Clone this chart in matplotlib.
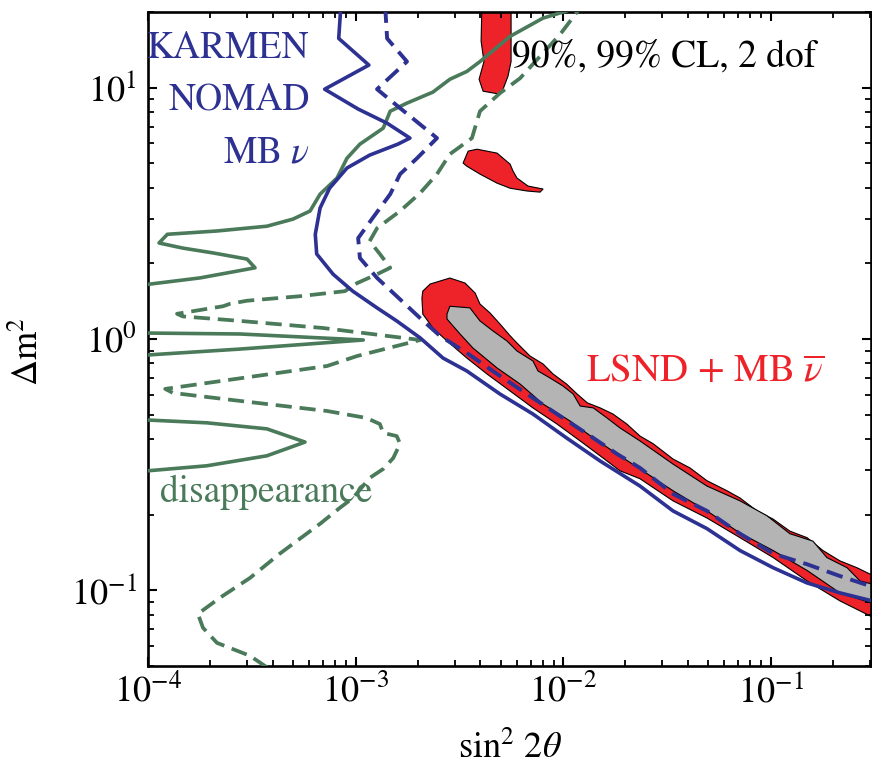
import matplotlib
matplotlib.use("Agg")
import matplotlib.pyplot as plt
from matplotlib.ticker import LogLocator, NullFormatter, LogFormatterMathtext

plt.rcParams['font.family'] = 'serif'
plt.rcParams['font.serif'] = ['STIXGeneral', 'Liberation Serif', 'DejaVu Serif']
plt.rcParams['mathtext.fontset'] = 'stix'

BLUE = '#2d3192'
GREEN = '#4a7a5a'
RED = '#ee2229'
GRAY = '#b4b4b4'

# ---------------- data (sin^2 2theta, Delta m^2) ----------------
# KARMEN + NOMAD + MB nu, solid contour
blue_solid_x = [8.5e-4, 8.3e-4, 1.16e-3, 7.1e-4, 1.03e-3, 1.42e-3, 1.83e-3, 1.60e-3,
                1.17e-3, 9.1e-4, 7.5e-4, 6.75e-4, 6.4e-4, 6.5e-4, 7.8e-4, 9.7e-4,
                1.27e-3, 1.58e-3, 2.05e-3, 2.64e-3, 3.44e-3, 4.97e-3, 7.16e-3, 1.04e-2,
                1.51e-2, 2.35e-2, 3.39e-2, 4.94e-2, 7.13e-2, 0.103, 0.150, 0.216, 0.337]
blue_solid_y = [21.1, 15.7, 12.3, 9.86, 8.22, 7.22, 6.30, 5.96,
                5.39, 4.79, 3.98, 3.32, 2.61, 2.18, 1.81, 1.55,
                1.33, 1.18, 1.01, 0.840, 0.746, 0.604, 0.503, 0.404,
                0.327, 0.260, 0.207, 0.176, 0.144, 0.123, 0.107, 0.0977, 0.0892]

# KARMEN + NOMAD + MB nu, dashed contour
blue_dash_x = [1.39e-3, 1.42e-3, 1.77e-3, 1.27e-3, 1.64e-3, 2.47e-3, 1.98e-3, 1.64e-3,
               1.47e-3, 1.21e-3, 1.03e-3, 1.05e-3, 1.27e-3, 1.58e-3, 2.05e-3, 2.55e-3,
               3.44e-3, 4.81e-3, 6.71e-3, 9.35e-3, 1.31e-2, 1.82e-2, 2.35e-2, 3.39e-2,
               4.94e-2, 7.13e-2, 0.103, 0.150, 0.216, 0.337]
blue_dash_y = [21.1, 15.7, 12.7, 9.86, 8.29, 6.30, 5.24, 4.53,
               3.77, 3.03, 2.52, 2.10, 1.75, 1.48, 1.21, 1.03,
               0.880, 0.726, 0.604, 0.503, 0.419, 0.349, 0.307, 0.242,
               0.207, 0.168, 0.140, 0.127, 0.114, 0.101]

# disappearance, solid contour
green_solid_x = [1.24e-2, 8.0e-3, 5.56e-3, 3.98e-3, 3.44e-3, 2.85e-3, 2.36e-3, 1.77e-3,
                 1.47e-3, 1.36e-3, 1.05e-3, 9.1e-4, 8.15e-4, 6.75e-4, 6.04e-4, 5.0e-4,
                 3.74e-4, 2.15e-4, 1.24e-4, 1.13e-4, 1.47e-4, 2.06e-4, 3.0e-4, 3.28e-4,
                 2.57e-4, 1.78e-4, 1.0e-4, 8e-5, 8e-5, 1.0e-4, 2.78e-4, 1.09e-3,
                 2.78e-4, 1.0e-4, 8e-5, 8e-5, 1.0e-4, 1.92e-4, 3.74e-4, 5.71e-4,
                 3.74e-4, 1.92e-4, 1.0e-4, 8e-5]
green_solid_y = [21.1, 18.9, 16.0, 12.7, 11.6, 10.8, 9.6, 8.68,
                 8.06, 6.90, 5.96, 5.24, 4.37, 3.77, 3.23, 3.00,
                 2.81, 2.69, 2.61, 2.41, 2.30, 2.20, 2.08, 1.92,
                 1.85, 1.75, 1.65, 1.60, 1.09, 1.056, 1.047, 0.991,
                 0.912, 0.864, 0.848, 0.481, 0.476, 0.464, 0.439, 0.389,
                 0.343, 0.313, 0.299, 0.296]

# disappearance, dashed contour
green_dash_x = [1.28e-2, 9.69e-3, 7.16e-3, 6.21e-3, 4.97e-3, 3.98e-3, 3.64e-3, 2.85e-3,
                2.47e-3, 2.05e-3, 1.64e-3, 1.27e-3, 1.17e-3, 1.31e-3, 1.47e-3, 1.27e-3,
                1.02e-3, 8.89e-4, 5.40e-4, 3.0e-4, 2.48e-4, 2.30e-4, 1.38e-4, 1.47e-4,
                2.78e-4, 6.97e-4, 2.05e-3, 1.02e-3, 7.30e-4, 3.35e-4, 1.21e-4, 1.32e-4,
                2.78e-4, 7.30e-4, 1.13e-3, 1.31e-3, 1.36e-3, 1.58e-3, 1.64e-3, 1.52e-3,
                1.36e-3, 1.17e-3, 9.72e-4, 8.41e-4, 6.75e-4, 6.04e-4, 4.32e-4, 3.10e-4,
                2.22e-4, 1.74e-4, 1.84e-4, 2.15e-4, 3.10e-4, 4.09e-4]
green_dash_y = [22.1, 16.3, 12.4, 10.9, 9.51, 8.06, 6.30, 5.44,
                4.53, 3.81, 3.23, 2.76, 2.45, 2.18, 1.92, 1.81,
                1.67, 1.55, 1.48, 1.42, 1.38, 1.35, 1.26, 1.23,
                1.18, 1.106, 0.991, 0.856, 0.781, 0.713, 0.633, 0.610,
                0.567, 0.517, 0.485, 0.459, 0.423, 0.411, 0.383, 0.336,
                0.304, 0.280, 0.233, 0.213, 0.184, 0.172, 0.140, 0.112,
                0.0934, 0.0806, 0.0710, 0.0618, 0.0549, 0.0470]

# LSND + MB anti-nu, 99% CL region (outer, red)
lsnd99_x = [2.09e-3, 2.11e-3, 2.29e-3, 2.85e-3, 3.37e-3, 3.77e-3, 3.98e-3, 4.45e-3,
            4.97e-3, 5.56e-3, 6.00e-3, 6.93e-3, 8.02e-3, 8.95e-3, 1.04e-2, 1.17e-2,
            1.31e-2, 1.51e-2, 1.74e-2, 2.03e-2, 2.35e-2, 2.72e-2, 3.39e-2, 4.09e-2,
            4.94e-2, 6.17e-2, 7.13e-2, 8.61e-2, 0.103, 0.124, 0.150, 0.179,
            0.216, 0.261, 0.337,
            0.337, 0.216, 0.150, 0.103, 7.13e-2, 4.94e-2, 3.39e-2, 2.35e-2,
            1.88e-2, 1.56e-2, 1.21e-2, 9.35e-3, 7.16e-3, 5.56e-3, 4.30e-3, 3.44e-3,
            2.76e-3, 2.36e-3, 2.11e-3]
lsnd99_y = [1.456, 1.55, 1.655, 1.748, 1.670, 1.524, 1.378, 1.269,
            1.147, 1.03, 0.964, 0.856, 0.795, 0.726, 0.662, 0.604,
            0.557, 0.532, 0.503, 0.459, 0.411, 0.383, 0.333, 0.307,
            0.273, 0.249, 0.233, 0.207, 0.192, 0.172, 0.162, 0.144,
            0.131, 0.123, 0.111,
            0.0756, 0.0908, 0.109, 0.135, 0.162, 0.194, 0.227, 0.278,
            0.299, 0.336, 0.393, 0.459, 0.532, 0.621, 0.726, 0.840,
            0.982, 1.106, 1.257]

# LSND + MB anti-nu, 90% CL region (inner, gray)
lsnd90_x = [2.76e-3, 2.85e-3, 3.56e-3, 3.98e-3, 4.60e-3, 5.37e-3, 6.00e-3, 7.16e-3,
            7.58e-3, 8.65e-3, 1.00e-2, 1.12e-2, 1.21e-2, 1.40e-2, 1.63e-2, 1.88e-2,
            2.35e-2, 3.39e-2, 4.94e-2, 7.13e-2, 9.62e-2, 0.124, 0.160, 0.187,
            0.234, 0.270, 0.337,
            0.337, 0.216, 0.150, 0.103, 7.13e-2, 4.94e-2, 3.39e-2, 2.35e-2,
            1.82e-2, 1.40e-2, 1.08e-2, 8.02e-3, 6.21e-3, 4.81e-3, 3.68e-3, 3.19e-3,
            2.76e-3]
lsnd90_y = [1.257, 1.35, 1.33, 1.18, 1.076, 0.982, 0.896, 0.818,
            0.746, 0.700, 0.650, 0.604, 0.541, 0.532, 0.485, 0.443,
            0.393, 0.318, 0.260, 0.227, 0.198, 0.168, 0.157, 0.135,
            0.123, 0.109, 0.104,
            0.0868, 0.0977, 0.120, 0.144, 0.169, 0.207, 0.249, 0.304,
            0.349, 0.404, 0.472, 0.551, 0.662, 0.767, 0.921, 1.047,
            1.201]

# isolated 99% CL islands
island_top_x = [4.07e-3, 4.03e-3, 4.16e-3, 3.94e-3, 4.12e-3, 4.97e-3, 5.14e-3, 5.43e-3,
                5.62e-3, 5.62e-3, 5.62e-3]
island_top_y = [22.1, 15.3, 12.7, 10.8, 9.68, 9.42, 9.86, 11.1,
                12.7, 16.8, 22.1]
island_mid_x = [3.30e-3, 3.49e-3, 3.85e-3, 4.81e-3, 5.56e-3, 5.74e-3, 6.00e-3, 6.78e-3,
                8.02e-3, 7.75e-3, 6.71e-3, 5.56e-3, 4.81e-3, 3.98e-3, 3.44e-3]
island_mid_y = [5.01, 5.59, 5.69, 5.49, 4.96, 4.66, 4.37, 4.06,
                3.95, 3.84, 3.88, 3.98, 4.17, 4.53, 4.87]

x_limits = (1e-4, 0.305)
y_limits = (0.05, 20)

# ---------------- figure ----------------
fig = plt.figure(figsize=(8.72, 7.69), dpi=100)
ax = fig.add_axes([148 / 872, 103 / 769, 723 / 872, 654 / 769])
ax.set_xscale('log')
ax.set_yscale('log')

ax.fill(lsnd99_x, lsnd99_y, facecolor=RED, edgecolor='black', lw=0.8, zorder=1)
ax.fill(island_top_x, island_top_y, facecolor=RED, edgecolor='black', lw=0.8, zorder=1)
ax.fill(island_mid_x, island_mid_y, facecolor=RED, edgecolor='black', lw=0.8, zorder=1)
ax.fill(lsnd90_x, lsnd90_y, facecolor=GRAY, edgecolor='black', lw=0.8, zorder=2)

ax.plot(green_solid_x, green_solid_y, color=GREEN, lw=2.6, zorder=3)
ax.plot(green_dash_x, green_dash_y, color=GREEN, lw=2.7, ls=(0, (4.3, 2.1)), zorder=3)
ax.plot(blue_solid_x, blue_solid_y, color=BLUE, lw=2.6, zorder=4)
ax.plot(blue_dash_x, blue_dash_y, color=BLUE, lw=2.8, ls=(0, (4.3, 2.1)), zorder=4)

ax.set_xlim(*x_limits)
ax.set_ylim(*y_limits)

for axis in (ax.xaxis, ax.yaxis):
    axis.set_major_locator(LogLocator(base=10, numticks=20))
    axis.set_minor_locator(LogLocator(base=10, subs=range(2, 10), numticks=50))
    axis.set_minor_formatter(NullFormatter())
    axis.set_major_formatter(LogFormatterMathtext())

ax.tick_params(which='both', direction='in', top=True, right=True, labelsize=26)
ax.tick_params(which='major', length=6.5, width=1.5)
ax.tick_params(which='minor', length=4.3, width=1.3)
ax.tick_params(axis='y', pad=8)
ax.tick_params(axis='x', pad=6)
for sp in ax.spines.values():
    sp.set_linewidth(1.9)

ax.set_xlabel(r'sin$^{2}$ 2$\theta$', fontsize=26)
ax.xaxis.set_label_coords(0.5, -0.100)
ax.set_ylabel(r'$\Delta\mathrm{m}^{2}$', fontsize=26)
ax.yaxis.set_label_coords(-0.141, 0.48)

ax.text(0.2238, 0.9297, 'KARMEN', color=BLUE, fontsize=27, ha='right',
        va='baseline', transform=ax.transAxes)
ax.text(0.2238, 0.8502, 'NOMAD', color=BLUE, fontsize=27, ha='right',
        va='baseline', transform=ax.transAxes)
ax.text(0.2238, 0.7706, r'MB $\nu$', color=BLUE, fontsize=27, ha='right',
        va='baseline', transform=ax.transAxes)
ax.text(0.504, 0.916, '90%, 99% CL, 2 dof', color='black', fontsize=27,
        ha='left', va='baseline', transform=ax.transAxes)
ax.text(0.606, 0.434, r'LSND + MB $\overline{\nu}$', color=RED, fontsize=28,
        ha='left', va='baseline', transform=ax.transAxes)
ax.text(0.0166, 0.2508, 'disappearance', color=GREEN, fontsize=27,
        ha='left', va='baseline', transform=ax.transAxes)

fig.savefig('out.png', dpi=100)
